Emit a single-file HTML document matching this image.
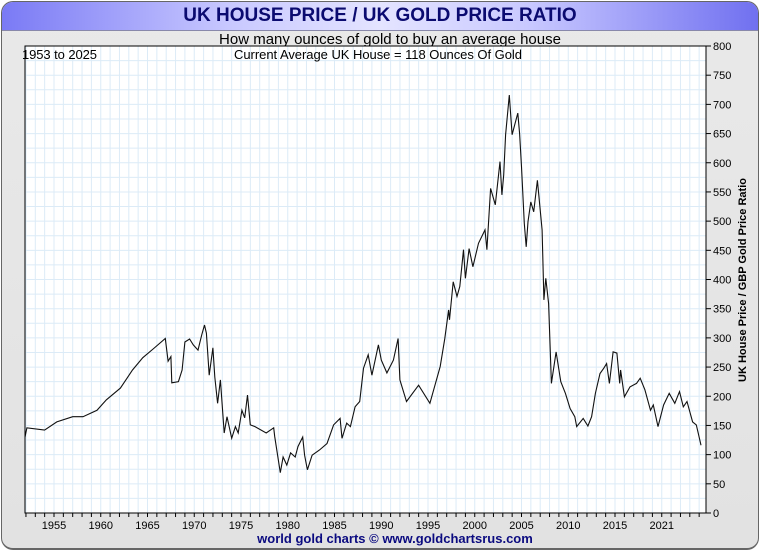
<!DOCTYPE html>
<html><head><meta charset="utf-8"><style>
body{margin:0;width:760px;height:550px;overflow:hidden;font-family:"Liberation Sans",sans-serif;background:#fff}
#frame{position:absolute;left:1px;top:1px;width:756px;height:546px;border-radius:12px;border:1px solid #666;border-bottom-width:2px;background:linear-gradient(#e9e9e9,#e2e2e2);overflow:hidden}
#hdr{position:absolute;left:0;top:0;width:756px;height:28px;background:linear-gradient(90deg,#7a7af5,#c8c8ff 30%,#e4e4ff 50%,#c8c8ff 70%,#7070f0);border-bottom:1px solid #8888aa}
#title{position:absolute;left:0;width:756px;top:3px;text-align:center;font-weight:bold;font-size:19px;color:#0b0b70}
</style></head><body>
<div id="frame">
<div id="hdr"><div id="title">UK HOUSE PRICE / UK GOLD PRICE RATIO</div></div>
</div>
<svg id="svg" width="760" height="550" style="position:absolute;left:0;top:0">
<text x="390" y="44" text-anchor="middle" font-size="15" fill="#000">How many ounces of gold to buy an average house</text>
<rect x="25" y="46" width="681" height="467" fill="#fff"/>
<g id="grid"></g>
<g id="axes"></g>
<path id="line" fill="none" stroke="#111" stroke-width="1.1"/>
<rect x="25" y="46" width="681" height="467" fill="none" stroke="#000" stroke-width="1"/>
<text x="22" y="59" font-size="13" textLength="75">1953 to 2025</text>
<text x="378" y="59" text-anchor="middle" font-size="13" textLength="288">Current Average UK House = 118 Ounces Of Gold</text>
<text transform="translate(746,280) rotate(-90)" text-anchor="middle" font-size="11" font-weight="bold">UK House Price / GBP Gold Price Ratio</text>
<text x="395" y="543" text-anchor="middle" font-size="13" font-weight="bold" fill="#0b0b80">world gold charts © www.goldchartsrus.com</text>
</svg>
<script>
const years=[1951.9,1952.1,1954.0,1955.3,1957.0,1958.1,1959.6,1960.6,1962.1,1963.4,1964.5,1965.6,1966.9,1967.2,1967.5,1967.6,1968.3,1968.7,1969.0,1969.5,1969.9,1970.4,1970.8,1971.1,1971.3,1971.6,1972.0,1972.2,1972.5,1972.8,1973.2,1973.5,1974.0,1974.4,1974.7,1975.1,1975.4,1975.7,1976.0,1976.5,1977.7,1978.5,1978.6,1979.2,1979.5,1979.9,1980.3,1980.8,1981.1,1981.6,1981.8,1982.1,1982.6,1983.4,1984.2,1984.9,1985.6,1985.8,1986.3,1986.7,1987.2,1987.7,1988.1,1988.6,1989.0,1989.7,1990.0,1990.6,1991.3,1991.8,1992.0,1992.7,1994.0,1995.2,1995.7,1996.3,1996.8,1997.2,1997.3,1997.7,1998.1,1998.4,1998.8,1999.0,1999.4,1999.8,2000.4,2001.1,2001.3,2001.7,2002.2,2002.7,2002.9,2003.1,2003.3,2003.7,2004.0,2004.6,2004.8,2005.0,2005.3,2005.5,2005.7,2006.0,2006.3,2006.7,2007.2,2007.4,2007.6,2007.9,2008.2,2008.7,2009.2,2009.7,2010.2,2010.7,2010.9,2011.6,2012.1,2012.5,2012.9,2013.4,2013.8,2014.1,2014.4,2014.8,2015.2,2015.5,2015.6,2016.0,2016.6,2017.3,2017.7,2018.2,2018.8,2019.1,2019.6,2020.2,2020.8,2021.4,2021.9,2022.3,2022.7,2023.3,2023.7,2023.9,2024.2];
const ratio=[130,146,142,156,165,165,176,194,214,245,266,281,299,260,268,223,225,245,293,298,288,279,305,322,308,236,283,233,188,228,137,165,128,148,137,176,163,202,151,148,137,146,131,69,96,82,103,96,114,130,99,74,99,108,119,151,162,128,154,148,182,191,248,271,236,288,262,240,262,299,228,191,219,188,216,251,299,348,331,396,371,388,451,402,453,422,462,485,451,556,528,602,545,579,648,716,648,685,650,593,496,456,499,533,516,570,485,365,402,359,222,276,225,205,179,165,148,162,149,165,205,239,248,256,222,276,274,222,245,199,216,222,231,211,176,185,148,185,205,188,208,182,191,156,151,137,116];
const yTicks=[0,50,100,150,200,250,300,350,400,450,500,550,600,650,700,750,800];
const xTickYears=[1955,1960,1965,1970,1975,1980,1985,1990,1995,2000,2005,2010,2015,2020];
const xTickLabels=["1955","1960","1965","1970","1975","1980","1985","1990","1995","2000","2005","2010","2015","2021"];
const X=y=>54+(y-1955)*9.35, Y=v=>513-v*0.58375;
const NS="http://www.w3.org/2000/svg";
function mk(p,t,a){const e=document.createElementNS(NS,t);for(const k in a)e.setAttribute(k,a[k]);p.appendChild(e);return e;}
const grid=document.getElementById('grid'),axes=document.getElementById('axes');
for(let yr=1952;yr<=2024;yr++){const x=X(yr);
 const g=mk(grid,'line',{x1:x,x2:x,y1:46,y2:513,stroke:'#dcebf7','stroke-width':1});
 
 const t=mk(axes,'line',{x1:x,x2:x,y1:513,y2:517,stroke:'#000'});
 }
for(let v=25;v<800;v+=25){const y=Y(v);
 const g=mk(grid,'line',{x1:25,x2:706,y1:y,y2:y,stroke:'#dcebf7','stroke-width':1});
 }
yTicks.forEach(v=>{const y=Y(v);
 const t=mk(axes,'line',{x1:706,x2:711,y1:y,y2:y,stroke:'#000'});
 
 const l=mk(axes,'text',{x:713,y:y+4,'font-size':11});l.textContent=v;
 });
xTickYears.forEach((yr,i)=>{const l=mk(axes,'text',{x:X(yr),y:529,'font-size':11,'text-anchor':'middle'});l.textContent=xTickLabels[i];
 });
document.getElementById('line').setAttribute('d',years.map((yr,i)=>(i?'L':'M')+X(yr).toFixed(1)+','+Y(ratio[i]).toFixed(1)).join(''));
</script>
</body></html>
